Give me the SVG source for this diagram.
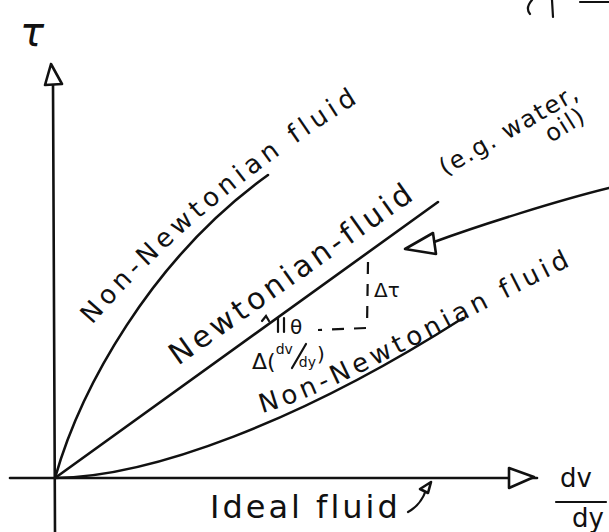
<svg xmlns="http://www.w3.org/2000/svg" width="609" height="532" viewBox="0 0 609 532">
<style>
.ln{fill:none;stroke:#111;stroke-width:2.6;stroke-linecap:round;stroke-linejoin:round}
.thin{fill:none;stroke:#111;stroke-width:2.2;stroke-linecap:round}
.dash{fill:none;stroke:#111;stroke-width:2.2;stroke-dasharray:12 10}
.head{fill:#fff;stroke:#111;stroke-width:2.6;stroke-linejoin:round}
.t{font-family:"DejaVu Sans",sans-serif;fill:#111}
</style>
<defs>
<path id="p1" d="M92,325 Q200,200 362,100"/>
<path id="p3" d="M262,413 C330,395 430,335 580,261"/>
</defs>
<rect width="609" height="532" fill="#fff"/>
<g id="connectors">
<path class="ln" d="M53,83 L55,532"/>
<path class="ln" d="M10,478 L537,478"/>
<path class="ln" d="M55,478 C80,390 150,260 268,175"/>
<path class="ln" d="M55,478 L438,202"/>
<path class="ln" d="M55,478 C150,477 300,422 463,318"/>
<path class="ln" d="M609,188 C560,200 480,225 434,242"/>
<path class="thin" d="M408,512 Q421,505 426,490"/>
<path class="dash" d="M368,262 L367,327"/>
<path class="dash" d="M366,328 L318,330"/>
</g>
<g id="axis-y-head"><polygon class="head" points="51,64 45,85 62,84"/></g>
<g id="axis-x-head"><polygon class="head" points="509,468 509,488 534,477"/></g>
<g id="pointer-head"><polygon class="head" points="405,249 433,233 436,254"/></g>
<g id="ideal-head"><polygon class="head" points="431,482 420,489 428,493"/></g>
<g id="label-tau">
<text class="t" x="20" y="46" font-size="40" font-style="italic">τ</text>
</g>
<g id="top-fragment">
<path class="thin" d="M532,0 Q525,8 530,14"/>
<path class="thin" d="M552,0 L553,17"/>
<path class="thin" d="M580,2 L609,2"/>
</g>
<g id="node-nonnewtonian-upper">
<text class="t" font-size="26" letter-spacing="4.6"><textPath href="#p1">Non-Newtonian fluid</textPath></text>
</g>
<g id="node-newtonian">
<text class="t" font-size="30" letter-spacing="3.8" transform="translate(178,366) rotate(-35.2)">Newtonian-fluid</text>
<text class="t" font-size="24" letter-spacing="1.6" transform="translate(445,176) rotate(-30)">(e.g. water,</text>
<text class="t" font-size="24" letter-spacing="1.5" transform="translate(551,143) rotate(-32)">oil)</text>
</g>
<g id="node-nonnewtonian-lower">
<text class="t" font-size="26" letter-spacing="4.3"><textPath href="#p3">Non-Newtonian fluid</textPath></text>
</g>
<g id="node-slope">
<text class="t" font-size="20" x="374" y="297">Δτ</text>
<path class="thin" d="M262,321 L266,316 L269,321 M278,318 L278,332 M284,318 L284,332"/>
<text class="t" font-size="20" x="290" y="334">θ</text>
<text class="t" font-size="22" x="252" y="369">Δ(<tspan font-size="14" dy="-15">dv</tspan><tspan font-size="14" dx="6" dy="13">dy</tspan><tspan font-size="20" dx="1" dy="-6">)</tspan></text>
<path class="thin" d="M292,368 L306,344"/>
</g>
<g id="node-ideal">
<text class="t" font-size="32" letter-spacing="3" x="210" y="518">Ideal fluid</text>
</g>
<g id="label-x">
<text class="t" font-size="26" x="560" y="487">dv</text>
<path class="thin" d="M556,502 L606,502"/>
<text class="t" font-size="26" x="572" y="527">dy</text>
</g>
</svg>
